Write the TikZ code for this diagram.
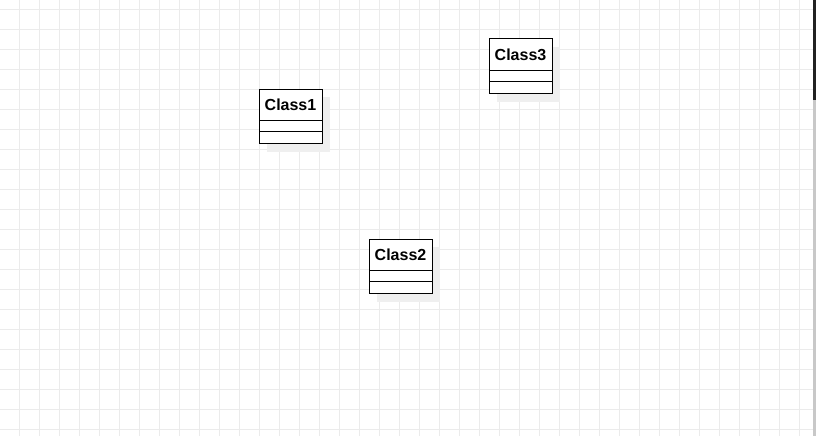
\documentclass[tikz,border=0pt]{standalone}
\usepackage{fontspec}
\setmainfont{Liberation Sans}
\definecolor{gridc}{HTML}{EBEBEB}
\definecolor{shadowc}{HTML}{EFEFEF}
\definecolor{sbdark}{HTML}{222222}
\definecolor{sblight}{HTML}{C8C8C8}
\tikzset{
  hdr/.style={draw=black, fill=white, line width=1pt, minimum width=63pt, minimum height=31pt,
    inner sep=0pt, outer sep=0pt, anchor=north west, font=\fontsize{16}{18}\selectfont\bfseries},
  cmp/.style={draw=black, fill=white, line width=1pt, minimum width=63pt, minimum height=11.75pt,
    inner sep=0pt, outer sep=0pt, anchor=north west},
  gridline/.style={draw=gridc, line width=1pt}
}
\begin{document}
\begin{tikzpicture}[x=1pt,y=-1pt]
\useasboundingbox (0,0) rectangle (816,436);
\fill[white] (0,0) rectangle (816,436);
% grid
\foreach \gx in {0,...,39} {
  \draw[gridline] (19.5+20*\gx,0) -- (19.5+20*\gx,436);
}
\foreach \gy in {0,...,21} {
  \draw[gridline] (0,9.5+20*\gy) -- (813,9.5+20*\gy);
}
% scrollbar
\fill[sblight] (813,100) rectangle (816,436);
\fill[sbdark] (813,0) rectangle (816,100);
% shadows
\fill[shadowc] (267,97) rectangle (330,152);
\fill[shadowc] (497,47) rectangle (560,102);
\fill[shadowc] (377,247) rectangle (440,302);
% Class1
\node[hdr] (c1) at (259,89) {Class1};
\node[cmp] (c1a) at (c1.south west) {};
\node[cmp] (c1b) at (c1a.south west) {};
% Class3
\node[hdr] (c3) at (489,39) {Class3};
\node[cmp] (c3a) at (c3.south west) {};
\node[cmp] (c3b) at (c3a.south west) {};
% Class2
\node[hdr] (c2) at (369,239) {Class2};
\node[cmp] (c2a) at (c2.south west) {};
\node[cmp] (c2b) at (c2a.south west) {};
\end{tikzpicture}
\end{document}
